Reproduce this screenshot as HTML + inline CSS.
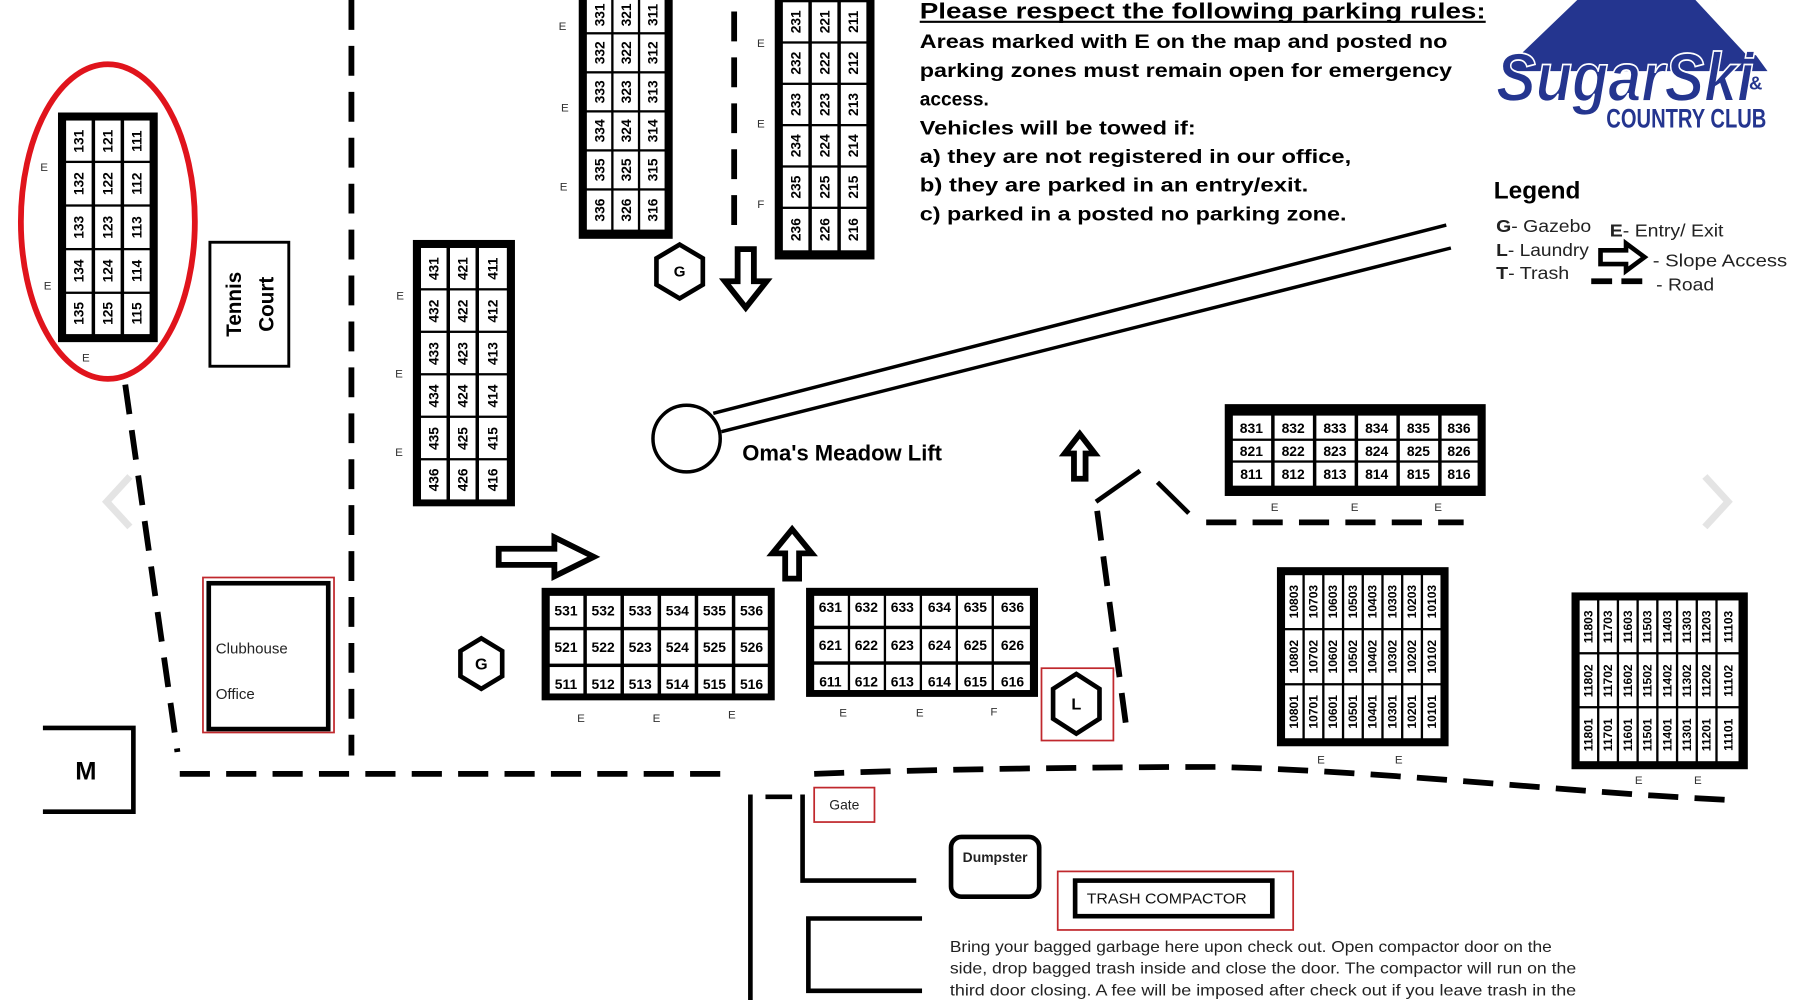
<!DOCTYPE html>
<html><head><meta charset="utf-8"><style>
html,body{margin:0;padding:0;background:#fff}
svg{display:block}
.c{font-family:"Liberation Sans",sans-serif;font-weight:bold;fill:#000}
</style></head><body>
<svg width="1800" height="1000" viewBox="0 0 1552 871" preserveAspectRatio="none" xmlns="http://www.w3.org/2000/svg">
<rect width="1552" height="871" fill="#fff"/>
<!-- faint carousel chevrons -->
<polyline points="112,415 92,437 112,459" fill="none" stroke="#e4e4e4" stroke-width="6"/>
<polyline points="1470,415 1490,437 1470,459" fill="none" stroke="#e4e4e4" stroke-width="6"/>

<!-- roads -->
<g stroke="#000" stroke-width="5" fill="none" stroke-dasharray="26 14">
<line x1="303" y1="0" x2="303" y2="658"/>
<line x1="108" y1="335" x2="153" y2="655"/>
<line x1="155" y1="674" x2="630" y2="674"/>
<path d="M702,674 C800,670 950,668 1050,668 C1200,672 1350,690 1495,697"/>
<line x1="633" y1="10" x2="633" y2="200"/>
<line x1="946" y1="445" x2="972" y2="640"/>
<line x1="1040" y1="455" x2="1262" y2="455"/>
</g>
<g stroke="#000" stroke-width="4" fill="none">
<line x1="945" y1="437" x2="983" y2="410"/>
<line x1="998" y1="420" x2="1025" y2="447"/>
<line x1="647" y1="692" x2="647" y2="871"/>
<line x1="660" y1="694" x2="683" y2="694"/>
<polyline points="692,692 692,767 790,767"/>
<polyline points="795,800 697,800 697,863 795,863"/>
<polyline points="37,634 115,634 115,707 37,707"/>
</g>
<text x="74" y="679" class="c" font-size="22" text-anchor="middle">M</text>

<!-- lift -->
<line x1="615" y1="360" x2="1247" y2="196" stroke="#000" stroke-width="3"/>
<line x1="622" y1="376" x2="1251" y2="216" stroke="#000" stroke-width="3"/>
<circle cx="592" cy="382" r="29" fill="#fff" stroke="#000" stroke-width="3"/>
<text x="640" y="401" class="c" font-size="19">Oma's Meadow Lift</text>

<!-- arrows -->
<g fill="#fff" stroke="#000" stroke-width="5" stroke-linejoin="miter">
<polygon points="430,478 478,478 478,468 512,485 478,502 478,492 430,492"/>
<polygon points="636,217 650,217 650,245 661,245 643,268 625,245 636,245"/>
<polygon points="926,417 936,417 936,395 944,395 931,378 918,395 926,395"/>
<polygon points="677,504 689,504 689,482 700,482 683,461 666,482 677,482"/>
</g>

<!-- hexagons -->
<g fill="#fff" stroke="#000" stroke-width="4">
<polygon points="586,213 606,225 606,248 586,260 566,248 566,225"/>
<polygon points="415,556 433,567 433,589 415,600 397,589 397,567"/>
<polygon points="928,587 948,600 948,626 928,639 908,626 908,600"/>
</g>
<text x="586" y="241" class="c" font-size="13" text-anchor="middle">G</text>
<text x="415" y="583" class="c" font-size="14" text-anchor="middle">G</text>
<text x="928" y="618" class="c" font-size="14" text-anchor="middle">L</text>
<rect x="898" y="582" width="62" height="63" fill="none" stroke="#c0282d" stroke-width="1.5"/>

<!-- Tennis court -->
<rect x="181" y="211" width="68" height="108" fill="#fff" stroke="#000" stroke-width="2.5"/>
<text transform="translate(208,265) rotate(-90)" class="c" font-size="18" text-anchor="middle">Tennis</text>
<text transform="translate(236,265) rotate(-90)" class="c" font-size="18" text-anchor="middle">Court</text>

<!-- clubhouse -->
<rect x="175" y="503" width="113" height="135" fill="none" stroke="#c0282d" stroke-width="1.5"/>
<rect x="180" y="508" width="103" height="127" fill="#fff" stroke="#000" stroke-width="4"/>
<text x="186" y="569" font-family="Liberation Sans,sans-serif" font-size="13" fill="#222">Clubhouse</text>
<text x="186" y="609" font-family="Liberation Sans,sans-serif" font-size="13" fill="#222">Office</text>

<!-- Block 1xx -->
<rect x="50" y="98" width="86" height="200" fill="#000"/>
<g fill="#fff">
<rect x="57" y="105" width="22" height="35"/><rect x="82" y="105" width="22" height="35"/><rect x="107" y="105" width="22" height="35"/>
<rect x="57" y="142" width="22" height="36"/><rect x="82" y="142" width="22" height="36"/><rect x="107" y="142" width="22" height="36"/>
<rect x="57" y="180" width="22" height="36"/><rect x="82" y="180" width="22" height="36"/><rect x="107" y="180" width="22" height="36"/>
<rect x="57" y="218" width="22" height="36"/><rect x="82" y="218" width="22" height="36"/><rect x="107" y="218" width="22" height="36"/>
<rect x="57" y="256" width="22" height="35"/><rect x="82" y="256" width="22" height="35"/><rect x="107" y="256" width="22" height="35"/>
</g>
<g class="c" font-size="12" text-anchor="middle">
<text transform="translate(72,123) rotate(-90)">131</text><text transform="translate(97,123) rotate(-90)">121</text><text transform="translate(122,123) rotate(-90)">111</text>
<text transform="translate(72,160) rotate(-90)">132</text><text transform="translate(97,160) rotate(-90)">122</text><text transform="translate(122,160) rotate(-90)">112</text>
<text transform="translate(72,198) rotate(-90)">133</text><text transform="translate(97,198) rotate(-90)">123</text><text transform="translate(122,198) rotate(-90)">113</text>
<text transform="translate(72,236) rotate(-90)">134</text><text transform="translate(97,236) rotate(-90)">124</text><text transform="translate(122,236) rotate(-90)">114</text>
<text transform="translate(72,273) rotate(-90)">135</text><text transform="translate(97,273) rotate(-90)">125</text><text transform="translate(122,273) rotate(-90)">115</text>
</g>
<ellipse cx="93" cy="193" rx="75" ry="137" fill="none" stroke="#e0141c" stroke-width="5"/>

<!-- Block 3xx -->
<rect x="499" y="-5" width="81" height="213" fill="#000"/>
<g fill="#fff">
<rect x="506" y="-5" width="21" height="33"/><rect x="529" y="-5" width="21" height="33"/><rect x="552" y="-5" width="21" height="33"/>
<rect x="506" y="30" width="21" height="32"/><rect x="529" y="30" width="21" height="32"/><rect x="552" y="30" width="21" height="32"/>
<rect x="506" y="64" width="21" height="32"/><rect x="529" y="64" width="21" height="32"/><rect x="552" y="64" width="21" height="32"/>
<rect x="506" y="98" width="21" height="32"/><rect x="529" y="98" width="21" height="32"/><rect x="552" y="98" width="21" height="32"/>
<rect x="506" y="132" width="21" height="32"/><rect x="529" y="132" width="21" height="32"/><rect x="552" y="132" width="21" height="32"/>
<rect x="506" y="166" width="21" height="34"/><rect x="529" y="166" width="21" height="34"/><rect x="552" y="166" width="21" height="34"/>
</g>
<g class="c" font-size="12" text-anchor="middle">
<text transform="translate(521,13) rotate(-90)">331</text><text transform="translate(544,13) rotate(-90)">321</text><text transform="translate(567,13) rotate(-90)">311</text>
<text transform="translate(521,46) rotate(-90)">332</text><text transform="translate(544,46) rotate(-90)">322</text><text transform="translate(567,46) rotate(-90)">312</text>
<text transform="translate(521,80) rotate(-90)">333</text><text transform="translate(544,80) rotate(-90)">323</text><text transform="translate(567,80) rotate(-90)">313</text>
<text transform="translate(521,114) rotate(-90)">334</text><text transform="translate(544,114) rotate(-90)">324</text><text transform="translate(567,114) rotate(-90)">314</text>
<text transform="translate(521,148) rotate(-90)">335</text><text transform="translate(544,148) rotate(-90)">325</text><text transform="translate(567,148) rotate(-90)">315</text>
<text transform="translate(521,183) rotate(-90)">336</text><text transform="translate(544,183) rotate(-90)">326</text><text transform="translate(567,183) rotate(-90)">316</text>
</g>

<!-- Block 2xx -->
<rect x="668" y="-5" width="86" height="231" fill="#000"/>
<g fill="#fff">
<rect x="675" y="2" width="22" height="34"/><rect x="700" y="2" width="22" height="34"/><rect x="725" y="2" width="22" height="34"/>
<rect x="675" y="38" width="22" height="34"/><rect x="700" y="38" width="22" height="34"/><rect x="725" y="38" width="22" height="34"/>
<rect x="675" y="74" width="22" height="34"/><rect x="700" y="74" width="22" height="34"/><rect x="725" y="74" width="22" height="34"/>
<rect x="675" y="110" width="22" height="34"/><rect x="700" y="110" width="22" height="34"/><rect x="725" y="110" width="22" height="34"/>
<rect x="675" y="146" width="22" height="34"/><rect x="700" y="146" width="22" height="34"/><rect x="725" y="146" width="22" height="34"/>
<rect x="675" y="182" width="22" height="36"/><rect x="700" y="182" width="22" height="36"/><rect x="725" y="182" width="22" height="36"/>
</g>
<g class="c" font-size="12" text-anchor="middle">
<text transform="translate(690,19) rotate(-90)">231</text><text transform="translate(715,19) rotate(-90)">221</text><text transform="translate(740,19) rotate(-90)">211</text>
<text transform="translate(690,55) rotate(-90)">232</text><text transform="translate(715,55) rotate(-90)">222</text><text transform="translate(740,55) rotate(-90)">212</text>
<text transform="translate(690,91) rotate(-90)">233</text><text transform="translate(715,91) rotate(-90)">223</text><text transform="translate(740,91) rotate(-90)">213</text>
<text transform="translate(690,127) rotate(-90)">234</text><text transform="translate(715,127) rotate(-90)">224</text><text transform="translate(740,127) rotate(-90)">214</text>
<text transform="translate(690,163) rotate(-90)">235</text><text transform="translate(715,163) rotate(-90)">225</text><text transform="translate(740,163) rotate(-90)">215</text>
<text transform="translate(690,200) rotate(-90)">236</text><text transform="translate(715,200) rotate(-90)">226</text><text transform="translate(740,200) rotate(-90)">216</text>
</g>

<!-- Block 4xx -->
<rect x="356" y="209" width="88" height="232" fill="#000"/>
<g fill="#fff">
<rect x="363" y="216" width="22" height="35"/><rect x="388" y="216" width="22" height="35"/><rect x="413" y="216" width="24" height="35"/>
<rect x="363" y="253" width="22" height="35"/><rect x="388" y="253" width="22" height="35"/><rect x="413" y="253" width="24" height="35"/>
<rect x="363" y="290" width="22" height="35"/><rect x="388" y="290" width="22" height="35"/><rect x="413" y="290" width="24" height="35"/>
<rect x="363" y="327" width="22" height="35"/><rect x="388" y="327" width="22" height="35"/><rect x="413" y="327" width="24" height="35"/>
<rect x="363" y="364" width="22" height="35"/><rect x="388" y="364" width="22" height="35"/><rect x="413" y="364" width="24" height="35"/>
<rect x="363" y="401" width="22" height="34"/><rect x="388" y="401" width="22" height="34"/><rect x="413" y="401" width="24" height="34"/>
</g>
<g class="c" font-size="12" text-anchor="middle">
<text transform="translate(378,234) rotate(-90)">431</text><text transform="translate(403,234) rotate(-90)">421</text><text transform="translate(429,234) rotate(-90)">411</text>
<text transform="translate(378,271) rotate(-90)">432</text><text transform="translate(403,271) rotate(-90)">422</text><text transform="translate(429,271) rotate(-90)">412</text>
<text transform="translate(378,308) rotate(-90)">433</text><text transform="translate(403,308) rotate(-90)">423</text><text transform="translate(429,308) rotate(-90)">413</text>
<text transform="translate(378,345) rotate(-90)">434</text><text transform="translate(403,345) rotate(-90)">424</text><text transform="translate(429,345) rotate(-90)">414</text>
<text transform="translate(378,382) rotate(-90)">435</text><text transform="translate(403,382) rotate(-90)">425</text><text transform="translate(429,382) rotate(-90)">415</text>
<text transform="translate(378,418) rotate(-90)">436</text><text transform="translate(403,418) rotate(-90)">426</text><text transform="translate(429,418) rotate(-90)">416</text>
</g>

<!-- Block 5xx -->
<rect x="467" y="512" width="201" height="98" fill="#000"/>
<g fill="#fff">
<rect x="474" y="519" width="29" height="27"/><rect x="506" y="519" width="29" height="27"/><rect x="538" y="519" width="29" height="27"/><rect x="570" y="519" width="29" height="27"/><rect x="602" y="519" width="29" height="27"/><rect x="634" y="519" width="28" height="27"/>
<rect x="474" y="549" width="29" height="29"/><rect x="506" y="549" width="29" height="29"/><rect x="538" y="549" width="29" height="29"/><rect x="570" y="549" width="29" height="29"/><rect x="602" y="549" width="29" height="29"/><rect x="634" y="549" width="28" height="29"/>
<rect x="474" y="581" width="29" height="23"/><rect x="506" y="581" width="29" height="23"/><rect x="538" y="581" width="29" height="23"/><rect x="570" y="581" width="29" height="23"/><rect x="602" y="581" width="29" height="23"/><rect x="634" y="581" width="28" height="23"/>
</g>
<g class="c" font-size="12" text-anchor="middle">
<text x="488" y="536">531</text><text x="520" y="536">532</text><text x="552" y="536">533</text><text x="584" y="536">534</text><text x="616" y="536">535</text><text x="648" y="536">536</text>
<text x="488" y="568">521</text><text x="520" y="568">522</text><text x="552" y="568">523</text><text x="584" y="568">524</text><text x="616" y="568">525</text><text x="648" y="568">526</text>
<text x="488" y="600">511</text><text x="520" y="600">512</text><text x="552" y="600">513</text><text x="584" y="600">514</text><text x="616" y="600">515</text><text x="648" y="600">516</text>
</g>

<!-- Block 6xx -->
<rect x="695" y="512" width="200" height="95" fill="#000"/>
<g fill="#fff">
<rect x="702" y="519" width="29" height="26"/><rect x="733" y="519" width="29" height="26"/><rect x="764" y="519" width="29" height="26"/><rect x="795" y="519" width="29" height="26"/><rect x="826" y="519" width="29" height="26"/><rect x="857" y="519" width="31" height="26"/>
<rect x="702" y="548" width="29" height="28"/><rect x="733" y="548" width="29" height="28"/><rect x="764" y="548" width="29" height="28"/><rect x="795" y="548" width="29" height="28"/><rect x="826" y="548" width="29" height="28"/><rect x="857" y="548" width="31" height="28"/>
<rect x="702" y="579" width="29" height="22"/><rect x="733" y="579" width="29" height="22"/><rect x="764" y="579" width="29" height="22"/><rect x="795" y="579" width="29" height="22"/><rect x="826" y="579" width="29" height="22"/><rect x="857" y="579" width="31" height="22"/>
</g>
<g class="c" font-size="12" text-anchor="middle">
<text x="716" y="533">631</text><text x="747" y="533">632</text><text x="778" y="533">633</text><text x="810" y="533">634</text><text x="841" y="533">635</text><text x="873" y="533">636</text>
<text x="716" y="566">621</text><text x="747" y="566">622</text><text x="778" y="566">623</text><text x="810" y="566">624</text><text x="841" y="566">625</text><text x="873" y="566">626</text>
<text x="716" y="598">611</text><text x="747" y="598">612</text><text x="778" y="598">613</text><text x="810" y="598">614</text><text x="841" y="598">615</text><text x="873" y="598">616</text>
</g>

<!-- Block 8xx -->
<rect x="1056" y="352" width="225" height="80" fill="#000"/>
<g fill="#fff">
<rect x="1063" y="362" width="33" height="20"/><rect x="1099" y="362" width="33" height="20"/><rect x="1135" y="362" width="33" height="20"/><rect x="1171" y="362" width="33" height="20"/><rect x="1207" y="362" width="33" height="20"/><rect x="1243" y="362" width="31" height="20"/>
<rect x="1063" y="384" width="33" height="17"/><rect x="1099" y="384" width="33" height="17"/><rect x="1135" y="384" width="33" height="17"/><rect x="1171" y="384" width="33" height="17"/><rect x="1207" y="384" width="33" height="17"/><rect x="1243" y="384" width="31" height="17"/>
<rect x="1063" y="403" width="33" height="20"/><rect x="1099" y="403" width="33" height="20"/><rect x="1135" y="403" width="33" height="20"/><rect x="1171" y="403" width="33" height="20"/><rect x="1207" y="403" width="33" height="20"/><rect x="1243" y="403" width="31" height="20"/>
</g>
<g class="c" font-size="12" text-anchor="middle">
<text x="1079" y="377">831</text><text x="1115" y="377">832</text><text x="1151" y="377">833</text><text x="1187" y="377">834</text><text x="1223" y="377">835</text><text x="1258" y="377">836</text>
<text x="1079" y="397">821</text><text x="1115" y="397">822</text><text x="1151" y="397">823</text><text x="1187" y="397">824</text><text x="1223" y="397">825</text><text x="1258" y="397">826</text>
<text x="1079" y="417">811</text><text x="1115" y="417">812</text><text x="1151" y="417">813</text><text x="1187" y="417">814</text><text x="1223" y="417">815</text><text x="1258" y="417">816</text>
</g>

<!-- Block 10xxx -->
<rect x="1101" y="494" width="148" height="156" fill="#000"/>
<g fill="#fff">
<rect x="1108" y="501" width="15" height="46"/><rect x="1125" y="501" width="15" height="46"/><rect x="1142" y="501" width="15" height="46"/><rect x="1159" y="501" width="15" height="46"/><rect x="1176" y="501" width="15" height="46"/><rect x="1193" y="501" width="15" height="46"/><rect x="1210" y="501" width="15" height="46"/><rect x="1227" y="501" width="15" height="46"/>
<rect x="1108" y="549" width="15" height="46"/><rect x="1125" y="549" width="15" height="46"/><rect x="1142" y="549" width="15" height="46"/><rect x="1159" y="549" width="15" height="46"/><rect x="1176" y="549" width="15" height="46"/><rect x="1193" y="549" width="15" height="46"/><rect x="1210" y="549" width="15" height="46"/><rect x="1227" y="549" width="15" height="46"/>
<rect x="1108" y="597" width="15" height="46"/><rect x="1125" y="597" width="15" height="46"/><rect x="1142" y="597" width="15" height="46"/><rect x="1159" y="597" width="15" height="46"/><rect x="1176" y="597" width="15" height="46"/><rect x="1193" y="597" width="15" height="46"/><rect x="1210" y="597" width="15" height="46"/><rect x="1227" y="597" width="15" height="46"/>
</g>
<g class="c" font-size="10.5" text-anchor="middle">
<text transform="translate(1119,524) rotate(-90)">10803</text><text transform="translate(1136,524) rotate(-90)">10703</text><text transform="translate(1153,524) rotate(-90)">10603</text><text transform="translate(1170,524) rotate(-90)">10503</text><text transform="translate(1187,524) rotate(-90)">10403</text><text transform="translate(1204,524) rotate(-90)">10303</text><text transform="translate(1221,524) rotate(-90)">10203</text><text transform="translate(1238,524) rotate(-90)">10103</text>
<text transform="translate(1119,572) rotate(-90)">10802</text><text transform="translate(1136,572) rotate(-90)">10702</text><text transform="translate(1153,572) rotate(-90)">10602</text><text transform="translate(1170,572) rotate(-90)">10502</text><text transform="translate(1187,572) rotate(-90)">10402</text><text transform="translate(1204,572) rotate(-90)">10302</text><text transform="translate(1221,572) rotate(-90)">10202</text><text transform="translate(1238,572) rotate(-90)">10102</text>
<text transform="translate(1119,620) rotate(-90)">10801</text><text transform="translate(1136,620) rotate(-90)">10701</text><text transform="translate(1153,620) rotate(-90)">10601</text><text transform="translate(1170,620) rotate(-90)">10501</text><text transform="translate(1187,620) rotate(-90)">10401</text><text transform="translate(1204,620) rotate(-90)">10301</text><text transform="translate(1221,620) rotate(-90)">10201</text><text transform="translate(1238,620) rotate(-90)">10101</text>
</g>

<!-- Block 11xxx -->
<rect x="1355" y="516" width="152" height="154" fill="#000"/>
<g fill="#fff">
<rect x="1362" y="523" width="15" height="45"/><rect x="1379" y="523" width="15" height="45"/><rect x="1396" y="523" width="15" height="45"/><rect x="1413" y="523" width="15" height="45"/><rect x="1430" y="523" width="15" height="45"/><rect x="1447" y="523" width="15" height="45"/><rect x="1464" y="523" width="15" height="45"/><rect x="1481" y="523" width="18" height="45"/>
<rect x="1362" y="570" width="15" height="45"/><rect x="1379" y="570" width="15" height="45"/><rect x="1396" y="570" width="15" height="45"/><rect x="1413" y="570" width="15" height="45"/><rect x="1430" y="570" width="15" height="45"/><rect x="1447" y="570" width="15" height="45"/><rect x="1464" y="570" width="15" height="45"/><rect x="1481" y="570" width="18" height="45"/>
<rect x="1362" y="617" width="15" height="46"/><rect x="1379" y="617" width="15" height="46"/><rect x="1396" y="617" width="15" height="46"/><rect x="1413" y="617" width="15" height="46"/><rect x="1430" y="617" width="15" height="46"/><rect x="1447" y="617" width="15" height="46"/><rect x="1464" y="617" width="15" height="46"/><rect x="1481" y="617" width="18" height="46"/>
</g>
<g class="c" font-size="10.5" text-anchor="middle">
<text transform="translate(1373,546) rotate(-90)">11803</text><text transform="translate(1390,546) rotate(-90)">11703</text><text transform="translate(1407,546) rotate(-90)">11603</text><text transform="translate(1424,546) rotate(-90)">11503</text><text transform="translate(1441,546) rotate(-90)">11403</text><text transform="translate(1458,546) rotate(-90)">11303</text><text transform="translate(1475,546) rotate(-90)">11203</text><text transform="translate(1494,546) rotate(-90)">11103</text>
<text transform="translate(1373,593) rotate(-90)">11802</text><text transform="translate(1390,593) rotate(-90)">11702</text><text transform="translate(1407,593) rotate(-90)">11602</text><text transform="translate(1424,593) rotate(-90)">11502</text><text transform="translate(1441,593) rotate(-90)">11402</text><text transform="translate(1458,593) rotate(-90)">11302</text><text transform="translate(1475,593) rotate(-90)">11202</text><text transform="translate(1494,593) rotate(-90)">11102</text>
<text transform="translate(1373,640) rotate(-90)">11801</text><text transform="translate(1390,640) rotate(-90)">11701</text><text transform="translate(1407,640) rotate(-90)">11601</text><text transform="translate(1424,640) rotate(-90)">11501</text><text transform="translate(1441,640) rotate(-90)">11401</text><text transform="translate(1458,640) rotate(-90)">11301</text><text transform="translate(1475,640) rotate(-90)">11201</text><text transform="translate(1494,640) rotate(-90)">11101</text>
</g>

<!-- E labels -->
<g font-family="Liberation Sans,sans-serif" font-size="10" fill="#333" text-anchor="middle">
<text x="38" y="149">E</text><text x="41" y="252">E</text><text x="74" y="315">E</text>
<text x="485" y="26">E</text><text x="487" y="97">E</text><text x="486" y="166">E</text>
<text x="656" y="41">E</text><text x="656" y="111">E</text><text x="656" y="181">F</text>
<text x="345" y="261">E</text><text x="344" y="329">E</text><text x="344" y="397">E</text>
<text x="501" y="629">E</text><text x="566" y="629">E</text><text x="631" y="626">E</text>
<text x="727" y="624">E</text><text x="793" y="624">E</text><text x="857" y="623">F</text>
<text x="1099" y="445">E</text><text x="1168" y="445">E</text><text x="1240" y="445">E</text>
<text x="1139" y="665">E</text><text x="1206" y="665">E</text>
<text x="1413" y="683">E</text><text x="1464" y="683">E</text>
</g>

<!-- bottom area -->
<rect x="702" y="686" width="52" height="30" fill="none" stroke="#c0282d" stroke-width="1.5"/>
<text x="728" y="705" font-family="Liberation Sans,sans-serif" font-size="12" fill="#222" text-anchor="middle">Gate</text>
<rect x="820" y="729" width="76" height="52" rx="9" fill="#fff" stroke="#000" stroke-width="4"/>
<text x="858" y="751" font-family="Liberation Sans,sans-serif" font-weight="bold" font-size="12" fill="#222" text-anchor="middle">Dumpster</text>
<rect x="912" y="759" width="203" height="51" fill="none" stroke="#c0282d" stroke-width="1.5"/>
<rect x="927" y="767" width="170" height="31" fill="#fff" stroke="#000" stroke-width="4"/>
<text x="1006" y="787" font-family="Liberation Sans,sans-serif" font-size="13" fill="#111" text-anchor="middle" textLength="138" lengthAdjust="spacingAndGlyphs">TRASH COMPACTOR</text>
<g font-family="Liberation Sans,sans-serif" font-size="13.5" fill="#222">
<text x="819" y="829" textLength="519" lengthAdjust="spacingAndGlyphs">Bring your bagged garbage here upon check out. Open compactor door on the</text>
<text x="819" y="848" textLength="540" lengthAdjust="spacingAndGlyphs">side, drop bagged trash inside and close the door.  The compactor will run on the</text>
<text x="819" y="867" textLength="540" lengthAdjust="spacingAndGlyphs">third door closing.  A fee will be imposed after check out if you leave trash in the</text>
</g>

<!-- rules text -->
<g class="c" font-size="16.5">
<text x="793" y="16" font-size="19" textLength="488" lengthAdjust="spacingAndGlyphs">Please respect the following parking rules:</text>
<line x1="793" y1="19" x2="1281" y2="19" stroke="#000" stroke-width="1.8"/>
<text x="793" y="42" textLength="455" lengthAdjust="spacingAndGlyphs">Areas marked with E on the map and posted no</text>
<text x="793" y="67" textLength="459" lengthAdjust="spacingAndGlyphs">parking zones must remain open for emergency</text>
<text x="793" y="92">access.</text>
<text x="793" y="117" textLength="238" lengthAdjust="spacingAndGlyphs">Vehicles will be towed if:</text>
<text x="793" y="142" textLength="372" lengthAdjust="spacingAndGlyphs">a) they are not registered in our office,</text>
<text x="793" y="167" textLength="335" lengthAdjust="spacingAndGlyphs">b) they are parked in an entry/exit.</text>
<text x="793" y="192" textLength="368" lengthAdjust="spacingAndGlyphs">c) parked in a posted no parking zone.</text>
</g>

<!-- logo -->
<polygon points="1296,62 1362,-2 1478,-2 1524,62" fill="#24358f"/>
<polygon points="1460,-2 1478,-2 1520,48 1506,48" fill="#fff"/>
<text x="1290" y="88" font-family="Liberation Sans,sans-serif" font-weight="bold" font-style="italic" font-size="60" fill="#24358f" stroke="#fff" stroke-width="1.5" textLength="222" lengthAdjust="spacingAndGlyphs">SugarSki</text>
<text x="1508" y="78" font-family="Liberation Sans,sans-serif" font-weight="bold" font-size="16" fill="#24358f">&amp;</text>
<text x="1385" y="111" font-family="Liberation Sans,sans-serif" font-weight="bold" font-size="23" fill="#24358f" textLength="138" lengthAdjust="spacingAndGlyphs">COUNTRY CLUB</text>
<text x="1326" y="14" font-size="14" fill="#fff">❄</text>

<!-- legend -->
<text x="1288" y="173" class="c" font-size="21">Legend</text>
<g font-family="Liberation Sans,sans-serif" font-size="15.5" fill="#222">
<text x="1290" y="202" textLength="82" lengthAdjust="spacingAndGlyphs"><tspan font-weight="bold">G</tspan>- Gazebo</text>
<text x="1290" y="223" textLength="80" lengthAdjust="spacingAndGlyphs"><tspan font-weight="bold">L</tspan>- Laundry</text>
<text x="1290" y="243" textLength="63" lengthAdjust="spacingAndGlyphs"><tspan font-weight="bold">T</tspan>- Trash</text>
<text x="1388" y="206" textLength="98" lengthAdjust="spacingAndGlyphs"><tspan font-weight="bold">E</tspan>- Entry/ Exit</text>
<text x="1425" y="232" textLength="116" lengthAdjust="spacingAndGlyphs">- Slope Access</text>
<text x="1428" y="253" textLength="50" lengthAdjust="spacingAndGlyphs">- Road</text>
</g>
<polygon points="1380,218 1402,218 1402,212 1418,224 1402,236 1402,230 1380,230" fill="#fff" stroke="#000" stroke-width="4"/>
<line x1="1372" y1="245" x2="1420" y2="245" stroke="#000" stroke-width="5" stroke-dasharray="18 8"/>
</svg>
</body></html>
